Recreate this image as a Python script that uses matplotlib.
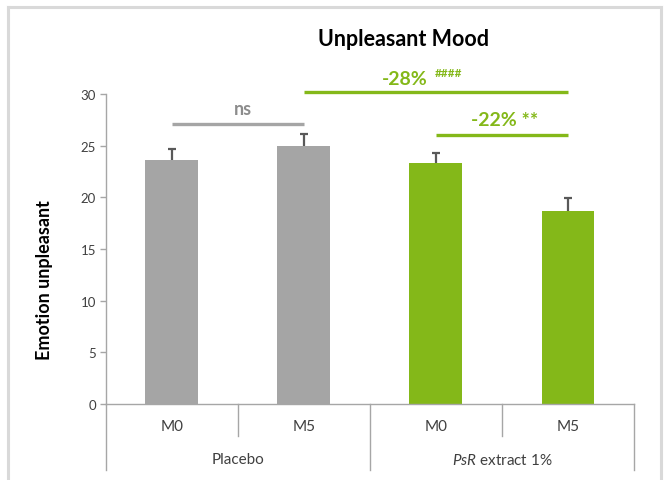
import matplotlib
matplotlib.use("Agg")
import matplotlib.pyplot as plt
from matplotlib.lines import Line2D

plt.rcParams['font.family'] = ['Lato', 'DejaVu Sans']
plt.rcParams['mathtext.fontset'] = 'custom'
plt.rcParams['mathtext.it'] = 'Lato:italic'
plt.rcParams['mathtext.rm'] = 'Lato'

# Data
timepoints = ["M0", "M5", "M0", "M5"]
groups = ["Placebo", "$PsR$ extract 1%"]
means = [23.6, 25.0, 23.3, 18.7]
sems = [1.1, 1.1, 1.0, 1.2]
yticks = [0, 5, 10, 15, 20, 25, 30]

# Significance annotations: (x_start, x_end, y, label)
ns_bar = (0, 1, 27.1, "ns")
bar_28 = (1, 3, 30.2, "-28%", "####")
bar_22 = (2, 3, 26.0, "-22% **")

GRAY = "#a5a5a5"
GREEN = "#84b819"
AXIS = "#a6a6a6"
TEXT = "#404040"
colors = [GRAY, GRAY, GREEN, GREEN]

W, H = 665, 481
fig = plt.figure(figsize=(W / 100, H / 100), dpi=100)

# outer chart frame
for xs, ys in [((8 / W, 8 / W), (0, 1 - 8 / H)),
               ((8 / W, 661 / W), (1 - 8 / H, 1 - 8 / H)),
               ((661 / W, 661 / W), (1 - 8 / H, 0))]:
    fig.add_artist(Line2D(xs, ys, transform=fig.transFigure,
                          color="#d9d9d9", lw=2.2))

left, right, bottom, top = 105.7, 634, 405, 95
ax = fig.add_axes([left / W, 1 - bottom / H, (right - left) / W, (bottom - top) / H])

x = list(range(len(means)))
tops = [m + s for m, s in zip(means, sems)]
ax.bar(x, means, width=0.4, color=colors, zorder=2)
# upper-only error bars with a cap at the top
ax.errorbar(x, means, yerr=[[0] * len(sems), sems], fmt="none",
            ecolor="#595959", elinewidth=1.6, capsize=0, zorder=3)
ax.scatter(x, tops, marker="_", s=40, linewidths=1.6, color="#595959",
           zorder=3, clip_on=False)

ax.set_xlim(-0.5, 3.5)
ax.set_ylim(0, 30)
ax.set_yticks(yticks)
ax.tick_params(axis="y", direction="out", length=4, width=1, color=AXIS,
               labelsize=9.5, labelcolor=TEXT, pad=3)
ax.set_xticks([])
for s in ["top", "right"]:
    ax.spines[s].set_visible(False)
ax.spines["left"].set_color(AXIS)
ax.spines["bottom"].set_color(AXIS)
ax.spines["left"].set_linewidth(1)
ax.spines["bottom"].set_linewidth(1)

# two-level category axis
for xv in [0.5, 2.5]:
    ax.plot([xv, xv], [0, -3.1], color=AXIS, lw=1, clip_on=False)
for xv in [-0.5, 1.5, 3.5]:
    ax.plot([xv, xv], [0, -6.4], color=AXIS, lw=1, clip_on=False)
for xi, lab in zip(x, timepoints):
    ax.text(xi, -2.15, lab, ha="center", va="center", fontsize=11, color=TEXT)
for gi, lab in enumerate(groups):
    ax.text(0.5 + 2 * gi, -5.35, lab, ha="center", va="center", fontsize=11, color=TEXT)

# significance lines
x0, x1, yv, lab = ns_bar
ax.plot([x0, x1], [yv, yv], color=GRAY, lw=2.4, clip_on=False, solid_capstyle="butt")
ax.text(0.54, 28.6, lab, ha="center", va="center", fontsize=13,
        fontweight="bold", color="#8c8c8c")

x0, x1, yv, lab, sup = bar_28
ax.plot([x0, x1], [yv, yv], color=GREEN, lw=2.4, clip_on=False, solid_capstyle="butt")
ax.text(1.766, 31.5, lab, ha="center", va="center", fontsize=14,
        fontweight="bold", color=GREEN)
ax.text(1.99, 32.1, sup, ha="left", va="center", fontsize=8.5,
        fontweight="bold", color=GREEN)

x0, x1, yv, lab = bar_22
ax.plot([x0, x1], [yv, yv], color=GREEN, lw=2.4, clip_on=False, solid_capstyle="butt")
ax.text(2.52, 27.5, lab, ha="center", va="center", fontsize=14,
        fontweight="bold", color=GREEN)

fig.text(404 / W, 1 - 40 / H, "Unpleasant Mood", ha="center", va="center",
         fontsize=15.5, fontweight="bold", color="black")
fig.text(45 / W, 1 - 280 / H, "Emotion unpleasant", ha="center", va="center",
         rotation=90, fontsize=13, fontweight="bold", color="black")

fig.savefig("out.png", dpi=100)
